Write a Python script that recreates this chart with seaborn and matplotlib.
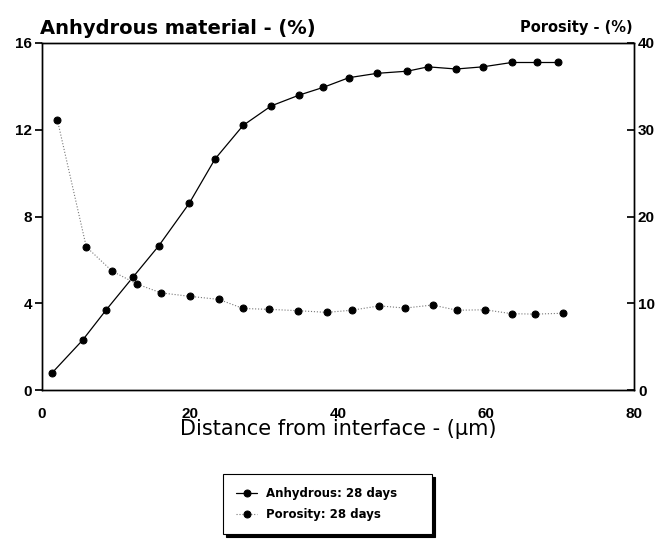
import pandas as pd
import seaborn as sns
import matplotlib.pyplot as plt

# valores
dist_anhydrous = [1.4, 5.5, 8.7, 12.3, 15.8, 19.9, 23.4, 27.2, 31.0, 34.8, 38.0,
                  41.5, 45.3, 49.4, 52.2, 56.0, 59.6, 63.5, 66.9, 69.8]
anhydrous = [0.8, 2.3, 3.7, 5.2, 6.65, 8.6, 10.65, 12.2, 13.1, 13.6, 13.95,
             14.4, 14.6, 14.7, 14.9, 14.8, 14.9, 15.1, 15.1, 15.1]

dist_porosity = [2.1, 6.0, 9.5, 12.9, 16.1, 20.0, 23.9, 27.2, 30.7, 34.6, 38.5,
                 41.9, 45.6, 49.1, 52.8, 56.1, 59.9, 63.5, 66.7, 70.4]
porosity = [31.1, 16.5, 13.7, 12.2, 11.2, 10.8, 10.45, 9.4, 9.3, 9.15, 8.95,
            9.2, 9.7, 9.45, 9.8, 9.2, 9.25, 8.8, 8.75, 8.85]

df_a = pd.DataFrame({'dist': dist_anhydrous, 'valor': anhydrous})
df_p = pd.DataFrame({'dist': dist_porosity, 'valor': porosity})

sns.set_theme(style='white')
plt.rcParams['font.family'] = ['Liberation Sans', 'DejaVu Sans']
plt.rcParams['text.color'] = 'black'
plt.rcParams['axes.labelcolor'] = 'black'
plt.rcParams['xtick.color'] = 'black'
plt.rcParams['ytick.color'] = 'black'

fig = plt.figure(figsize=(6.65, 5.44), dpi=100)
ax = fig.add_axes([0.063, 0.283, 0.890, 0.638])
ax2 = ax.twinx()

sns.lineplot(data=df_a, x='dist', y='valor', ax=ax, color='black', linewidth=0.9,
             marker='o', markersize=5, markeredgecolor='black',
             label='Anhydrous: 28 days', legend=False)
sns.lineplot(data=df_p, x='dist', y='valor', ax=ax2, color='#777777', linewidth=0.8,
             linestyle=':', marker='o', markersize=5, markerfacecolor='black',
             markeredgecolor='black', label='Porosity: 28 days', legend=False)

ax.set_xlim(0, 80)
ax.set_ylim(0, 16)
ax2.set_ylim(0, 40)
ax.set_xticks([0, 20, 40, 60, 80])
ax.set_yticks([0, 4, 8, 12, 16])
ax2.set_yticks([0, 10, 20, 30, 40])

for a in (ax, ax2):
    for s in a.spines.values():
        s.set_color('black')
        s.set_linewidth(1.0)
ax.tick_params(axis='y', direction='out', length=5, colors='black', labelsize=11, pad=2)
ax.tick_params(axis='x', direction='in', length=5, colors='black', labelsize=11, pad=12)
ax2.tick_params(axis='y', direction='in', length=5, colors='black', labelsize=11, pad=3)
for lbl in ax.get_xticklabels() + ax.get_yticklabels() + ax2.get_yticklabels():
    lbl.set_fontweight('bold')

ax.set_xlabel('Distance from interface - (µm)', fontsize=15, labelpad=-1,
              family=['DejaVu Sans'], color='black')
ax.set_ylabel('')
ax2.set_ylabel('')

fig.text(0.06, 0.93, 'Anhydrous material - (%)', fontsize=14, fontweight='bold',
         ha='left', va='bottom', family=['DejaVu Sans'], color='black')
fig.text(0.952, 0.935, 'Porosity - (%)', fontsize=10.5, fontweight='bold',
         ha='right', va='bottom', family=['DejaVu Sans'], color='black')

h1, l1 = ax.get_legend_handles_labels()
h2, l2 = ax2.get_legend_handles_labels()
leg = fig.legend(h1 + h2, l1 + l2, loc='center',
                 bbox_to_anchor=(223 / 665, 1 - 534 / 544, 209 / 665, 60 / 544),
                 mode='expand', frameon=True, fancybox=False,
                 shadow={'color': 'black', 'alpha': 1},
                 prop={'size': 8.5, 'weight': 'bold', 'family': ['DejaVu Sans']},
                 handlelength=1.8, handletextpad=0.7,
                 borderpad=1.1, labelspacing=0.7, borderaxespad=0)
leg.get_frame().set_edgecolor('black')
leg.get_frame().set_linewidth(0.8)
leg.get_frame().set_alpha(1)
for t in leg.get_texts():
    t.set_color('black')

fig.savefig('out.png', dpi=100)
